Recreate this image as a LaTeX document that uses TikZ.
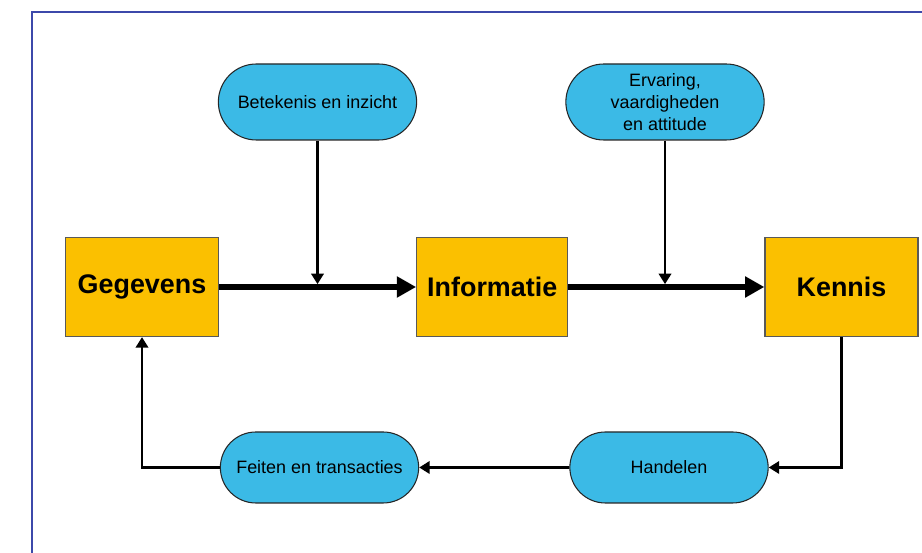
\documentclass[tikz,border=0pt]{standalone}
\usepackage{fontspec}
\setmainfont{Liberation Sans}
\usetikzlibrary{arrows.meta,positioning,shapes.misc}

\definecolor{boxyellow}{RGB}{251,192,0}
\definecolor{pillblue}{RGB}{59,186,230}
\definecolor{frameblue}{RGB}{60,72,170}

\begin{document}
\begin{tikzpicture}[
  box/.style={rectangle, draw=black!65, fill=boxyellow, minimum width=3.06cm, minimum height=1.98cm, align=center, font=\fontsize{15.3}{18}\selectfont\bfseries, line width=0.7pt},
  pill/.style={rounded rectangle, draw=black!85, fill=pillblue, minimum width=4.2cm, minimum height=1.52cm, align=center, font=\fontsize{10.2}{12.5}\selectfont, line width=0.6pt},
  bigarr/.style={-{Triangle[length=11pt, width=11.5pt]}, line width=3.2pt},
  arr/.style={-{Triangle[length=6pt, width=7pt]}, line width=1.5pt}
]
\useasboundingbox (0,0) rectangle (18.44,11.06);
\clip (0,0) rectangle (18.44,11.06);
\draw[frameblue, line width=0.6pt] (0.64,-1) rectangle (19.5,10.82);

\node[box] (gegevens) at (2.84,5.32) {Gegevens};
\node[box, minimum width=3.02cm, right=3.94cm of gegevens] (informatie) {Informatie};
\node[box, right=3.92cm of informatie] (kennis) {Kennis};

\node[pill] (betekenis) at (6.35,9.02) {Betekenis en inzicht};
\node[pill] (ervaring) at (13.30,9.02) {Ervaring,\\ vaardigheden\\ en attitude};
\node[pill, minimum height=1.42cm] (feiten) at (6.39,1.71) {Feiten en transacties};
\node[pill, minimum height=1.42cm] (handelen) at (13.38,1.71) {Handelen};

\draw[bigarr] (gegevens) -- (informatie);
\draw[bigarr] (informatie) -- (kennis);
\draw[arr, shorten >=1.6pt] (betekenis.south) -- (betekenis.south |- gegevens.east);
\draw[arr, shorten >=1.6pt] (ervaring.south) -- (ervaring.south |- informatie.east);
\draw[arr] (kennis.south) |- (handelen.east);
\draw[arr] (handelen) -- (feiten);
\draw[arr] (feiten.west) -| (gegevens.south);

\end{tikzpicture}
\end{document}
